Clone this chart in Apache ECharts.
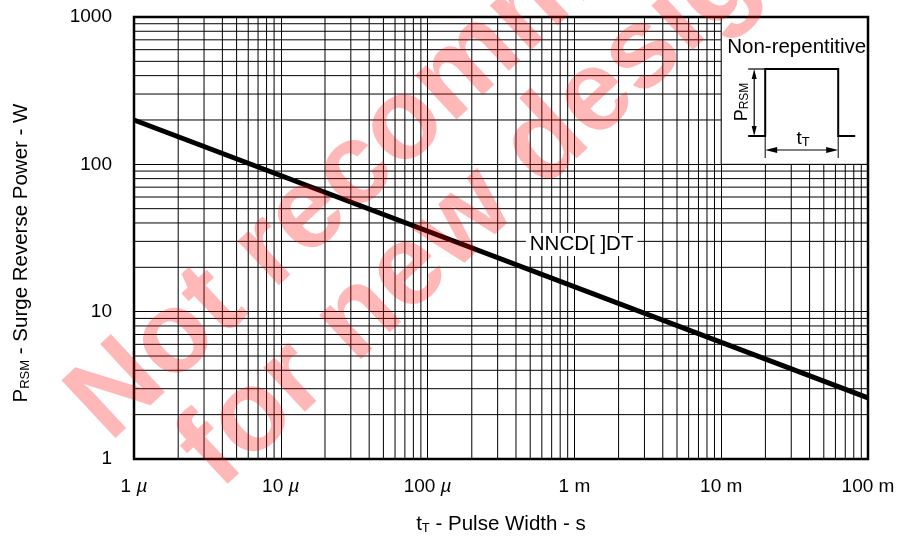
<!DOCTYPE html>
<html><head><meta charset="utf-8">
<script src="https://cdn.jsdelivr.net/npm/echarts@6/dist/echarts.min.js"></script>
<style>html,body{margin:0;padding:0;background:#fff}#c{width:900px;height:541px}</style>
</head><body><div id="c"></div>
<script>
// ---- data ----
const pulseWidth = [1e-6, 1e-1];          // s
const surgePower = [200, 2.6];            // W
const xTickLabels = ['1 µ', '10 µ', '100 µ', '1 m', '10 m', '100 m'];
const yTickLabels = ['1', '10', '100', '1000'];
const xAxisTitle = ['t', 'T', ' - Pulse Width - s'];
const yAxisTitle = ['P', 'RSM', ' - Surge Reverse Power - W'];
const seriesName = 'NNCD[ ]DT';
const seriesLabelAt = [1.12e-3, 28.6];
const xRange = [1e-6, 1e-1];
const yRange = [1, 1000];
const insetRange = [1e-2, 1000, 1e-1, 100];
const watermarkLines = ['Not recommended', 'for new design'];

const F = '"Liberation Sans", Arial, Helvetica, sans-serif';
const minorX = [], minorY = [];
for (let d = -6; d < -1; d++) for (let k = 2; k <= 9; k++) minorX.push(+(k * Math.pow(10, d)).toPrecision(3));
for (let d = 0; d < 3; d++) for (let k = 2; k <= 9; k++) minorY.push(k * Math.pow(10, d));

const chart = echarts.init(document.getElementById('c'));
const tickRich = {
  n: {fontSize: 19, fontFamily: F, color: '#000'},
  mu: {fontSize: 19, fontFamily: F, color: '#000', fontStyle: 'italic'}
};
const nameRich = {
  p: {fontSize: 20.5, fontFamily: F, color: '#000', verticalAlign: 'bottom', lineHeight: 25},
  s: {fontSize: 13, fontFamily: F, color: '#000', verticalAlign: 'bottom'}
};
const gridLine = (vertical) => (params, api) => {
  const v = api.value(vertical ? 0 : 1);
  const a = vertical ? api.coord([v, yRange[0]]) : api.coord([xRange[0], v]);
  const b = vertical ? api.coord([v, yRange[1]]) : api.coord([xRange[1], v]);
  return {type: 'line', shape: {x1: a[0], y1: a[1], x2: b[0], y2: b[1]}, style: {stroke: '#000', lineWidth: 1}};
};
chart.setOption({
  animation: false,
  grid: {left: 134, right: 32, top: 17, bottom: 82, containLabel: false, outerBoundsMode: 'none'},
  xAxis: {
    type: 'log', logBase: 10, min: xRange[0], max: xRange[1],
    axisLine: {show: false}, axisTick: {show: false},
    splitLine: {show: true, lineStyle: {color: '#000', width: 1}},
    axisLabel: {
      margin: 18, showMinLabel: true, showMaxLabel: true, hideOverlap: false, rich: tickRich,
      formatter: v => {
        const s = xTickLabels[Math.round(Math.log10(v)) + 6] || '';
        const p = s.split(' ');
        return p[1] === 'µ' ? '{n|' + p[0] + ' }{mu|µ}' : '{n|' + s + '}';
      }
    }
  },
  yAxis: {
    type: 'log', logBase: 10, min: yRange[0], max: yRange[1],
    axisLine: {show: false}, axisTick: {show: false},
    splitLine: {show: true, lineStyle: {color: '#000', width: 1}},
    axisLabel: {
      margin: 22, showMinLabel: true, showMaxLabel: true, fontSize: 19, fontFamily: F, color: '#000',
      formatter: v => yTickLabels[Math.round(Math.log10(v))] || ''
    },
    name: '{p|' + yAxisTitle[0] + '}{s|' + yAxisTitle[1] + '}{p|' + yAxisTitle[2] + '}',
    nameLocation: 'middle', nameGap: 102,
    nameTextStyle: {rich: nameRich, padding: [0, 30, 0, 0]}
  },
  series: [
    {type: 'custom', z: 2, silent: true, renderItem: gridLine(true), data: minorX.map(v => [v, yRange[0]])},
    {type: 'custom', z: 2, silent: true, renderItem: gridLine(false), data: minorY.map(v => [xRange[0], v])},
    {
      type: 'custom', z: 3, silent: true, data: [insetRange],
      encode: {x: [0, 2], y: [1, 3]},
      renderItem: (params, api) => {
        const a = api.coord([api.value(0), api.value(1)]);
        const b = api.coord([api.value(2), api.value(3)]);
        return {type: 'rect', shape: {x: a[0], y: a[1], width: b[0] - a[0], height: b[1] - a[1]}, style: {fill: '#fff', stroke: '#000', lineWidth: 1}};
      }
    },
    {
      name: seriesName, type: 'line', z: 5, silent: true,
      data: pulseWidth.map((x, i) => [x, surgePower[i]]),
      symbol: 'none', lineStyle: {color: '#000', width: 5},
      markPoint: {
        silent: true, symbol: 'rect', symbolSize: 1, itemStyle: {color: 'rgba(0,0,0,0)'},
        label: {show: true, position: 'inside', formatter: seriesName, backgroundColor: '#fff',
          padding: [1, 4, 1, 4], fontSize: 20.5, fontFamily: F, color: '#000'},
        data: [{coord: seriesLabelAt}]
      }
    }
  ]
});

const px = (x, y) => chart.convertToPixel({seriesIndex: 3}, [x, y]);
const tl = px(xRange[0], yRange[1]), br = px(xRange[1], yRange[0]);
const i0 = px(insetRange[0], insetRange[1]);
const g = [];
const line = (x1, y1, x2, y2, w) => g.push({type: 'line', z: 21, shape: {x1, y1, x2, y2}, style: {stroke: '#000', lineWidth: w}});
const tri = (pts) => g.push({type: 'polygon', z: 21, shape: {points: pts}, style: {fill: '#000'}});
// frame
g.push({type: 'rect', z: 30, shape: {x: tl[0], y: tl[1], width: br[0] - tl[0], height: br[1] - tl[1]}, style: {fill: 'none', stroke: '#000', lineWidth: 2.5}});
// x axis title
g.push({type: 'text', z: 21, x: (tl[0] + br[0]) / 2, y: br[1] + 63,
  style: {text: '{p|' + xAxisTitle[0] + '}{s|' + xAxisTitle[1] + '}{p|' + xAxisTitle[2] + '}', align: 'center', verticalAlign: 'middle',
    rich: {p: {fontSize: 20.5, fontFamily: F, fill: '#000', verticalAlign: 'bottom', lineHeight: 25}, s: {fontSize: 13, fontFamily: F, fill: '#000', verticalAlign: 'bottom'}}}});
const X = i0[0], Y = i0[1];
g.push({type: 'text', z: 21, x: X + 75.5, y: Y + 30, style: {text: 'Non-repentitive', fontSize: 20.5, fontFamily: F, fill: '#000', align: 'center', verticalAlign: 'middle'}});
// pulse
g.push({type: 'polyline', z: 21, shape: {points: [[X + 27, Y + 119], [X + 44, Y + 119], [X + 44, Y + 52], [X + 117, Y + 52], [X + 117, Y + 119], [X + 134, Y + 119]]}, style: {stroke: '#000', lineWidth: 2, fill: null}});
line(X + 27, Y + 52, X + 44, Y + 52, 1.2);
// vertical arrow
line(X + 33, Y + 60, X + 33, Y + 111, 1.2);
tri([[X + 33, Y + 52], [X + 30.5, Y + 62], [X + 35.5, Y + 62]]);
tri([[X + 33, Y + 119], [X + 30.5, Y + 109], [X + 35.5, Y + 109]]);
// horizontal arrow + extension lines
line(X + 44, Y + 119, X + 44, Y + 141, 1);
line(X + 117, Y + 119, X + 117, Y + 141, 1);
line(X + 54, Y + 133, X + 107, Y + 133, 1.2);
tri([[X + 44, Y + 133], [X + 56, Y + 130], [X + 56, Y + 136]]);
tri([[X + 117, Y + 133], [X + 105, Y + 130], [X + 105, Y + 136]]);
g.push({type: 'text', z: 21, x: X + 19, y: Y + 85, rotation: Math.PI / 2,
  style: {text: '{p|P}{s|RSM}', align: 'center', verticalAlign: 'middle',
    rich: {p: {fontSize: 18, fontFamily: F, fill: '#000', verticalAlign: 'bottom', lineHeight: 21}, s: {fontSize: 12, fontFamily: F, fill: '#000', verticalAlign: 'bottom'}}}});
g.push({type: 'text', z: 21, x: X + 82, y: Y + 121,
  style: {text: '{p|t}{s|T}', align: 'center', verticalAlign: 'middle',
    rich: {p: {fontSize: 19, fontFamily: F, fill: '#000', verticalAlign: 'bottom', lineHeight: 21}, s: {fontSize: 13, fontFamily: F, fill: '#000', verticalAlign: 'bottom'}}}});
// watermark
const ang = 43 * Math.PI / 180;
const wmPos = [[88, 420], [198, 468]];
watermarkLines.forEach((t, i) => g.push({type: 'text', z: 100, x: wmPos[i][0], y: wmPos[i][1], rotation: ang,
  style: {text: t, fontSize: 115, fontWeight: 'bold', fontFamily: F, fill: 'rgba(255,0,0,0.28)', align: 'left', verticalAlign: 'middle'}}));
chart.setOption({graphic: {elements: g}});
</script></body></html>
